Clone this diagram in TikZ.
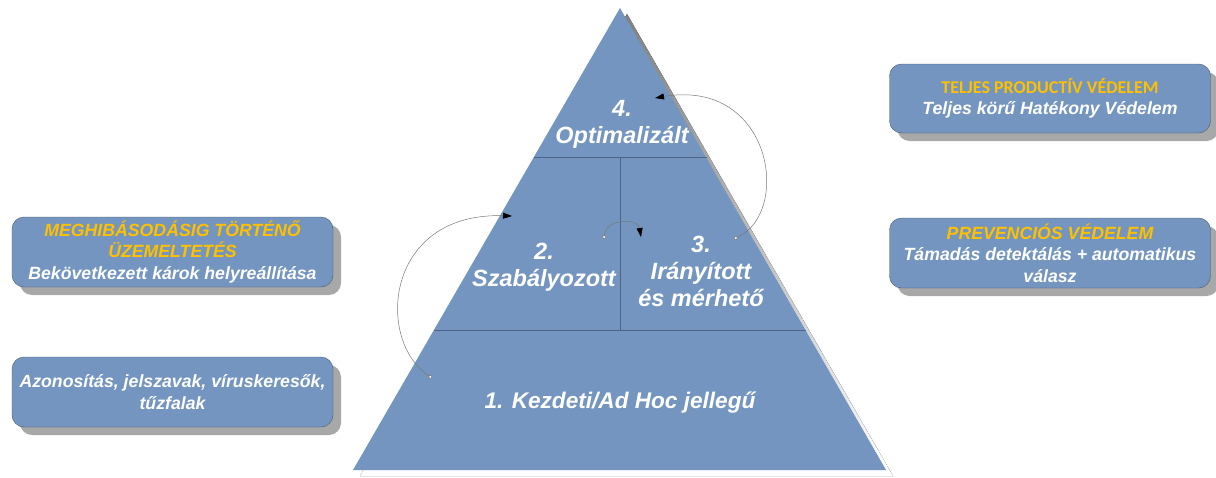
\documentclass[tikz,border=0pt]{standalone}
\usepackage{fontspec}
\setmainfont{Liberation Sans}
\newfontfamily\carlito{Carlito}
\usetikzlibrary{arrows.meta,shadows}
\definecolor{pyrblue}{RGB}{115,149,192}
\definecolor{pyrline}{RGB}{78,100,135}
\definecolor{boxline}{RGB}{80,92,110}
\definecolor{shade}{RGB}{168,168,168}
\definecolor{gold}{RGB}{255,192,0}
\definecolor{curve}{RGB}{120,120,120}
\tikzset{
  level/.style={text=white,align=center,inner sep=0pt,
    font=\fontsize{23.5}{27}\selectfont\bfseries\itshape},
  infobox/.style={draw=boxline,fill=pyrblue,rounded corners=12pt,
    minimum width=321pt,minimum height=70pt,align=center,text=white,
    font=\fontsize{17.7}{21.5}\selectfont\bfseries\itshape,
    drop shadow={shadow xshift=8pt,shadow yshift=-8pt,fill=shade,opacity=1}},
  cycle/.style={draw=curve,line width=0.5pt,
    {Circle[open,length=4pt,width=4pt,fill=white]}-{Triangle[length=9pt,width=6pt,black]}},
}
\begin{document}
\begin{tikzpicture}[x=1pt,y=-1pt]
    \useasboundingbox (0,0) rectangle (1216,477);
    % pyramid
    \fill[shade] (627,14) -- (893,476) -- (360,476) -- cycle;
    \fill[pyrblue] (620,8) -- (886,470) -- (353,470) -- cycle;
    \draw[pyrline,line width=0.6pt] (534,157) -- (707,157);
    \draw[pyrline,line width=0.6pt] (434,330) -- (806,330);
    \draw[pyrline,line width=0.6pt] (620,157) -- (620,330);
    \node[level] (L4) at (622,124) {4.\\Optimalizált};
    \node[level] (L3) at (701,271) {3.\\Irányított\\és mérhető};
    \node[level] (L2) at (544,267) {2.\\Szabályozott};
    \node[level,font=\fontsize{22.6}{26}\selectfont\bfseries\itshape] (L1) at (620,403) {1. Kezdeti/Ad Hoc jellegű};
    % side boxes
    \node[infobox] (B1) at (172.5,252) {\textcolor{gold}{MEGHIBÁSODÁSIG TÖRTÉNŐ}\\\textcolor{gold}{ÜZEMELTETÉS}\\Bekövetkezett károk helyreállítása};
    \node[infobox] (B0) at (172.5,392) {Azonosítás, jelszavak, víruskeresők,\\tűzfalak};
    \node[infobox,minimum height=69pt] (B4) at (1050,98.5) {\textcolor{gold}{\carlito\upshape\fontsize{18}{21.5}\selectfont TELJES PRODUCTÍV VÉDELEM}\\Teljes körű Hatékony Védelem};
    \node[infobox] (B3) at (1050,253) {\textcolor{gold}{PREVENCIÓS VÉDELEM}\\Támadás detektálás + automatikus\\válasz};
    % cycle arrows
    \coordinate (s1) at (432,378);
    \coordinate (e1) at (512,216);
    \coordinate (s2) at (604,239);
    \coordinate (e2) at (641,237);
    \coordinate (s3) at (734,239);
    \coordinate (e3) at (655,98);
    \draw[cycle] (s1) .. controls (375,340) and (385,212) .. (e1);
    \draw[cycle] (s2) .. controls (606,218) and (638,218) .. (e2);
    \draw[cycle] (s3) .. controls (792,212) and (772,78) .. (e3);
\end{tikzpicture}
\end{document}
